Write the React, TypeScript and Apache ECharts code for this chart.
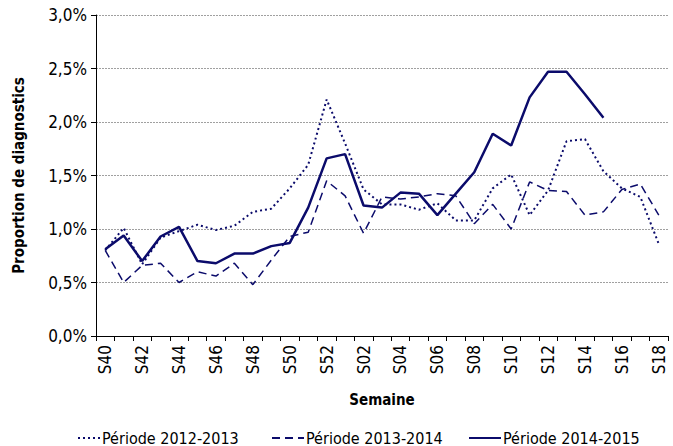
import React, { useEffect, useRef } from "react";
import * as echarts from "echarts";

const weeks = [
  "S40", "S41", "S42", "S43", "S44", "S45", "S46", "S47", "S48", "S49", "S50", "S51", "S52",
  "S01", "S02", "S03", "S04", "S05", "S06", "S07", "S08", "S09", "S10", "S11", "S12",
  "S13", "S14", "S15", "S16", "S17", "S18",
];

const periode2012_2013 = [
  0.80, 1.01, 0.67, 0.92, 0.98, 1.04, 0.99, 1.03, 1.16, 1.19, 1.38, 1.60, 2.21,
  1.80, 1.37, 1.23, 1.23, 1.18, 1.24, 1.08, 1.08, 1.38, 1.51, 1.13, 1.36,
  1.82, 1.84, 1.54, 1.38, 1.30, 0.86,
];

const periode2013_2014 = [
  0.80, 0.50, 0.66, 0.68, 0.50, 0.60, 0.56, 0.68, 0.48, 0.71, 0.93, 0.97, 1.45,
  1.31, 0.96, 1.30, 1.28, 1.30, 1.33, 1.31, 1.05, 1.23, 1.00, 1.44, 1.36,
  1.35, 1.13, 1.16, 1.37, 1.42, 1.13,
];

const periode2014_2015 = [
  0.81, 0.94, 0.70, 0.93, 1.02, 0.70, 0.68, 0.77, 0.77, 0.84, 0.87, 1.20, 1.66,
  1.70, 1.22, 1.20, 1.34, 1.33, 1.13, 1.33, 1.53, 1.89, 1.78, 2.23, 2.47,
  2.47, 2.26, 2.04, null, null, null,
];

const seriesNames = ["Période 2012-2013", "Période 2013-2014", "Période 2014-2015"];

const FONT = "'DejaVu Sans Condensed', 'Liberation Sans Narrow', 'Noto Sans', sans-serif";
const NAVY = "#0b0b6b";

export default function App() {
  const ref = useRef<HTMLDivElement>(null);

  useEffect(() => {
    document.body.style.margin = "0";
    if (!ref.current) return;
    const chart = echarts.init(ref.current, null, { renderer: "svg" });
    const legendLefts = [72, 266, 463];
    const legendWidths = [22, 32, 32];
    chart.setOption({
      animation: false,
      backgroundColor: "#ffffff",
      textStyle: { fontFamily: FONT },
      grid: { left: 96, right: 5, top: 15, bottom: 110, containLabel: false },
      legend: seriesNames.map((n, i) => ({
        left: legendLefts[i],
        top: 425,
        itemWidth: legendWidths[i],
        itemHeight: 12,
        itemGap: 2,
        itemStyle: { opacity: 0 },
        textStyle: { fontFamily: FONT, fontSize: 16, color: "#000", padding: [0, 0, 0, -3] },
        data: [n],
      })),
      xAxis: {
        type: "category",
        data: weeks,
        boundaryGap: true,
        name: "Semaine",
        nameLocation: "middle",
        nameGap: 56,
        nameTextStyle: { fontFamily: FONT, fontWeight: "bold", fontSize: 15, color: "#000" },
        axisLine: { lineStyle: { color: "#000", width: 1 } },
        axisTick: { show: true, interval: 0, length: 5, lineStyle: { color: "#000" } },
        axisLabel: {
          interval: 1,
          rotate: 90,
          margin: 9,
          fontFamily: FONT,
          fontSize: 17,
          color: "#000",
        },
        splitLine: { show: false },
      },
      yAxis: {
        type: "value",
        min: 0,
        max: 3,
        interval: 0.5,
        name: "Proportion de diagnostics",
        nameLocation: "middle",
        nameGap: 70,
        nameTextStyle: { fontFamily: FONT, fontWeight: "bold", fontSize: 15, color: "#000" },
        axisLine: { show: true, lineStyle: { color: "#000", width: 1 } },
        axisTick: { show: true, length: 5, lineStyle: { color: "#000" } },
        axisLabel: {
          margin: 9,
          fontFamily: FONT,
          fontSize: 17,
          color: "#000",
          formatter: (v: number) => v.toFixed(1).replace(".", ",") + "%",
        },
        splitLine: { show: true, lineStyle: { color: "#a0a0a0", type: [2, 1], width: 1 } },
      },
      series: [
        {
          name: seriesNames[0],
          type: "line",
          data: periode2012_2013,
          symbol: "none",
          lineStyle: { color: NAVY, width: 2, type: [2, 3] },
          itemStyle: { color: NAVY },
        },
        {
          name: seriesNames[1],
          type: "line",
          data: periode2013_2014,
          symbol: "none",
          lineStyle: { color: NAVY, width: 1.5, type: [8, 5] },
          itemStyle: { color: NAVY },
        },
        {
          name: seriesNames[2],
          type: "line",
          data: periode2014_2015,
          symbol: "none",
          connectNulls: false,
          lineStyle: { color: NAVY, width: 2.5, type: "solid" },
          itemStyle: { color: NAVY },
        },
      ],
    });
    return () => chart.dispose();
  }, []);

  return (
    <div
      ref={ref}
      style={{ position: "absolute", left: 0, top: 0, width: 673, height: 446 }}
    />
  );
}
